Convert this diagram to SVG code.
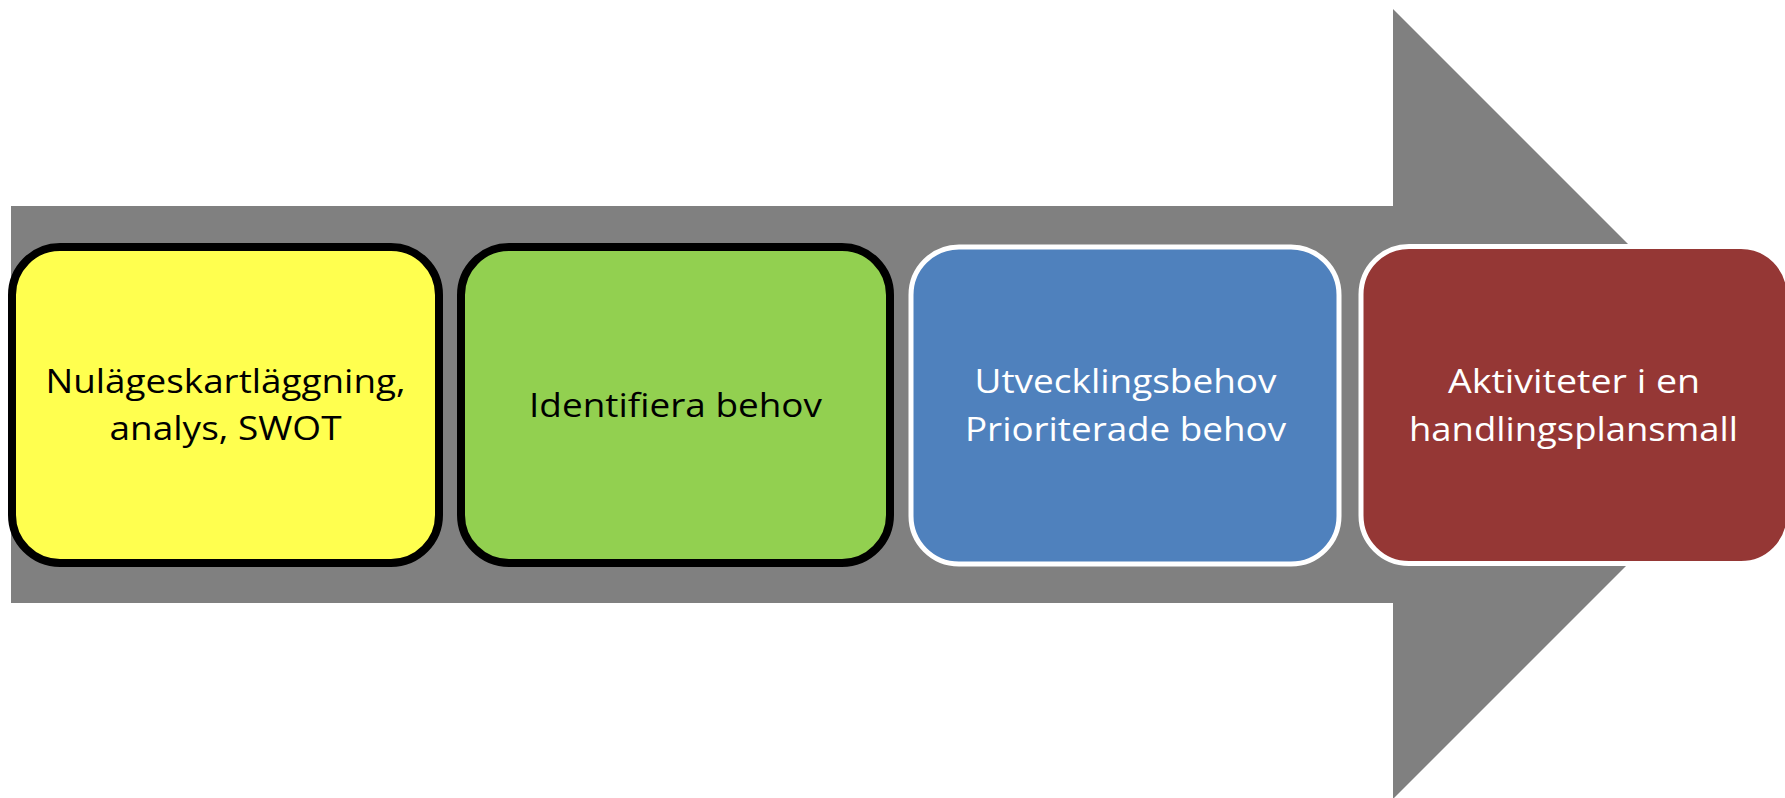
<svg xmlns="http://www.w3.org/2000/svg" width="1785" height="798" viewBox="0 0 1785 798">
<style>
.box{stroke-width:8}
.dark{stroke:#000000}
.light{stroke:#ffffff;stroke-width:5}
text{font-family:"Open Sans","Liberation Sans",Arial,sans-serif;font-size:32px;text-anchor:middle}
.t-dark{fill:#000000}
.t-light{fill:#ffffff}
</style>
<rect width="1785" height="798" fill="#ffffff"/>
<g id="arrow">
<polygon points="11,206 1393,206 1393,9 1788,404 1393,799 1393,603 11,603" fill="#808080"/>
</g>
<g id="connectors"></g>
<g id="node1">
<rect class="box dark" x="12" y="247" width="427" height="316" rx="48" fill="#FFFF4F"/>
<text class="t-dark" x="225.5" y="393" textLength="360" lengthAdjust="spacingAndGlyphs">Nulägeskartläggning,</text>
<text class="t-dark" x="225.5" y="440" textLength="232" lengthAdjust="spacingAndGlyphs">analys, SWOT</text>
</g>
<g id="node2">
<rect class="box dark" x="461" y="247" width="429" height="316" rx="48" fill="#92D050"/>
<text class="t-dark" x="675.5" y="417" textLength="293" lengthAdjust="spacingAndGlyphs">Identifiera behov</text>
</g>
<g id="node3">
<rect class="light" x="911" y="247" width="428" height="317" rx="48" fill="#4F81BD"/>
<text class="t-light" x="1125.5" y="393" textLength="302" lengthAdjust="spacingAndGlyphs">Utvecklingsbehov</text>
<text class="t-light" x="1125.5" y="441" textLength="321" lengthAdjust="spacingAndGlyphs">Prioriterade behov</text>
</g>
<g id="node4">
<rect class="light" x="1361" y="246.5" width="428" height="317" rx="48" fill="#953735"/>
<text class="t-light" x="1574" y="393" textLength="252" lengthAdjust="spacingAndGlyphs">Aktiviteter i en</text>
<text class="t-light" x="1573.5" y="441" textLength="329" lengthAdjust="spacingAndGlyphs">handlingsplansmall</text>
</g>
</svg>
